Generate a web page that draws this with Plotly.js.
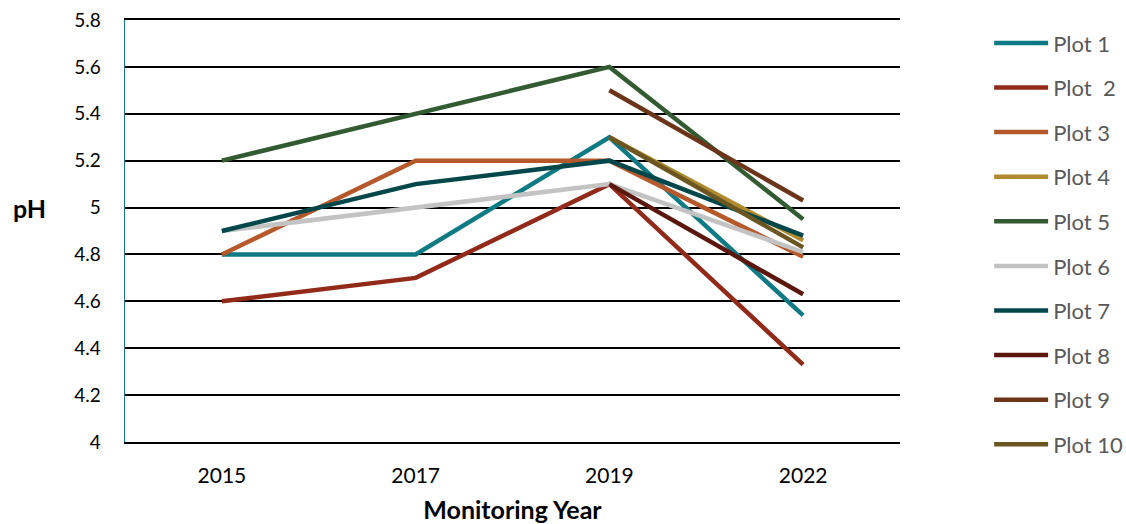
<!DOCTYPE html>
<html>
<head>
<meta charset="utf-8">
<script src="https://cdn.plot.ly/plotly-3.0.1.min.js"></script>
<style>html,body{margin:0;padding:0;background:#fff;}#chart{width:1126px;height:524px;}</style>
</head>
<body>
<div id="chart"></div>
<script>
const years = ['2015', '2017', '2019', '2022'];
const plotNames = ['Plot 1', 'Plot  2', 'Plot 3', 'Plot 4', 'Plot 5', 'Plot 6', 'Plot 7', 'Plot 8', 'Plot 9', 'Plot 10'];
const plot1 = [4.8, 4.8, 5.3, 4.54];
const plot2 = [4.6, 4.7, 5.1, 4.33];
const plot3 = [4.8, 5.2, 5.2, 4.79];
const plot4 = [null, null, 5.3, 4.86];
const plot5 = [5.2, 5.4, 5.6, 4.95];
const plot6 = [4.9, 5.0, 5.1, 4.81];
const plot7 = [4.9, 5.1, 5.2, 4.88];
const plot8 = [null, null, 5.1, 4.63];
const plot9 = [null, null, 5.5, 5.03];
const plot10 = [null, null, 5.3, 4.83];
const seriesValues = [plot1, plot2, plot3, plot4, plot5, plot6, plot7, plot8, plot9, plot10];
const colors = ['#0E7A83', '#922A1A', '#B5592A', '#B08A2E', '#335B31', '#C3C3C3', '#04474B', '#5A170D', '#6A3519', '#6B5521'];
const yTicks = [4, 4.2, 4.4, 4.6, 4.8, 5, 5.2, 5.4, 5.6, 5.8];

const FONT = 'Lato, "Open Sans", sans-serif';

const traces = seriesValues.map((vals, i) => ({
  x: years,
  y: vals,
  name: plotNames[i],
  type: 'scatter',
  mode: 'lines',
  legendgroup: 'g' + i,
  line: {color: colors[i], width: 4.5},
  connectgaps: false,
  hoverinfo: 'skip'
}));

const layout = {
  width: 1126,
  height: 524,
  paper_bgcolor: '#fff',
  plot_bgcolor: '#fff',
  margin: {l: 125, r: 226, t: 20, b: 82, autoexpand: false},
  font: {family: FONT, color: '#000'},
  showlegend: true,
  legend: {
    x: 1.115,
    xanchor: 'left',
    y: 0.995,
    yanchor: 'top',
    font: {family: FONT, size: 22, color: '#595959'},
    itemwidth: 54,
    tracegroupgap: 13,
    maxheight: 520,
    bgcolor: 'rgba(0,0,0,0)'
  },
  xaxis: {
    type: 'category',
    range: [-0.5, 3.5],
    showgrid: false,
    showline: true,
    mirror: true,
    linecolor: '#000',
    linewidth: 2,
    zeroline: false,
    ticks: 'outside',
    ticklen: 14,
    tickcolor: 'rgba(0,0,0,0)',
    tickfont: {family: FONT, size: 21, color: '#000'},
    title: {text: '<b>Monitoring Year</b>', font: {family: FONT, size: 25, color: '#000'}, standoff: 16}
  },
  yaxis: {
    range: [4, 5.8],
    tickvals: yTicks,
    ticktext: yTicks.map(v => String(v)),
    showgrid: true,
    gridcolor: '#000',
    gridwidth: 2,
    zeroline: false,
    showline: true,
    linecolor: '#0E7A83',
    linewidth: 1.5,
    ticks: 'outside',
    ticklen: 19,
    tickcolor: 'rgba(0,0,0,0)',
    tickfont: {family: FONT, size: 19, color: '#000'}
  },
  annotations: [{
    text: '<b>pH</b>',
    xref: 'paper', yref: 'y',
    x: -0.1226, y: 5.0,
    xanchor: 'center', yanchor: 'middle',
    showarrow: false,
    font: {family: FONT, size: 25, color: '#000'}
  }]
};

Plotly.newPlot('chart', traces, layout, {displayModeBar: false, staticPlot: true});
</script>
</body>
</html>
